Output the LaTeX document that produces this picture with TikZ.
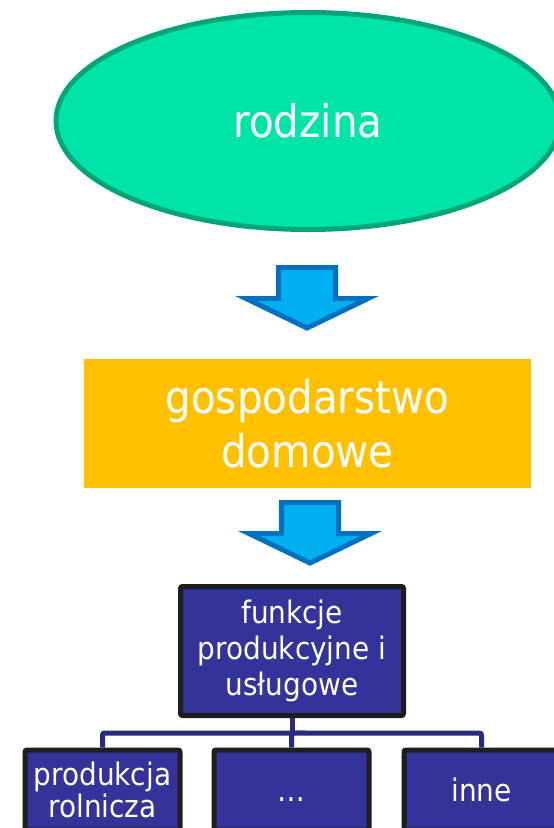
\documentclass[tikz,border=0pt]{standalone}
\usepackage{fontspec}
\setmainfont{DejaVu Sans Condensed}
\usepackage{tikz}
\usetikzlibrary{positioning}
\usetikzlibrary{shapes.geometric}
\usepackage{xcolor}
\definecolor{familygreen}{RGB}{0,228,168}
\definecolor{familyedge}{RGB}{0,166,120}
\definecolor{homeorange}{RGB}{255,192,0}
\definecolor{arrowfill}{RGB}{0,176,240}
\definecolor{arrowedge}{RGB}{0,112,192}
\definecolor{funcblue}{RGB}{51,51,153}
\definecolor{funcedge}{RGB}{30,30,30}
\definecolor{busline}{RGB}{42,42,130}

\begin{document}
\begin{tikzpicture}[x=1pt, y=-1pt,
familynode/.style={ellipse, draw=familyedge, fill=familygreen, line width=5pt, minimum width=504pt, minimum height=217pt, text=white, font=\fontsize{45}{54}\selectfont},
homenode/.style={rectangle, fill=homeorange, minimum width=447pt, minimum height=129pt, text=white, align=center, font=\fontsize{45}{54}\selectfont},
funcnode/.style={rectangle, draw=funcedge, fill=funcblue, line width=5pt, rounded corners=2pt, text=white, align=center, inner sep=0pt},
topfunc/.style={funcnode, minimum width=223pt, minimum height=129pt, font=\fontsize{31}{36}\selectfont},
subfunc/.style={funcnode, minimum width=155pt, minimum height=80pt, font=\fontsize{31}{32}\selectfont},
busedge/.style={draw=busline, line width=5pt, rounded corners=2pt},
downarrow/.pic={\draw[draw=arrowedge, fill=arrowfill, line width=5pt] (-28.5,2.5) -- (28.5,2.5) -- (28.5,33.5) -- (61,33.5) -- (0,63) -- (-61,33.5) -- (-28.5,33.5) -- cycle;}]
\useasboundingbox (0,0) rectangle (554,828);
\clip (0,0) rectangle (554,828);

\node[familynode] (rodzina) at (308,121) {rodzina};
\node[homenode] (dom) at (307.5,423.5) {gospodarstwo\\domowe};
\node[topfunc] (fun) at (292,651) {funkcje\\produkcyjne i\\usługowe};

\node[subfunc] (rol) at (102.5,790) {produkcja\\rolnicza};
\node[subfunc] (dots) at (291.5,790) {\vphantom{inne}\dots};
\node[subfunc] (inne) at (481.5,790) {inne};

\pic at (307,265) {downarrow};
\pic at (310,500) {downarrow};

\coordinate (bus) at (292,733);
\draw[busedge] (fun.south) -- (bus);
\draw[busedge] (bus) -| (rol.north);
\draw[busedge] (bus) -| (dots.north);
\draw[busedge] (bus) -| (inne.north);
\end{tikzpicture}
\end{document}
